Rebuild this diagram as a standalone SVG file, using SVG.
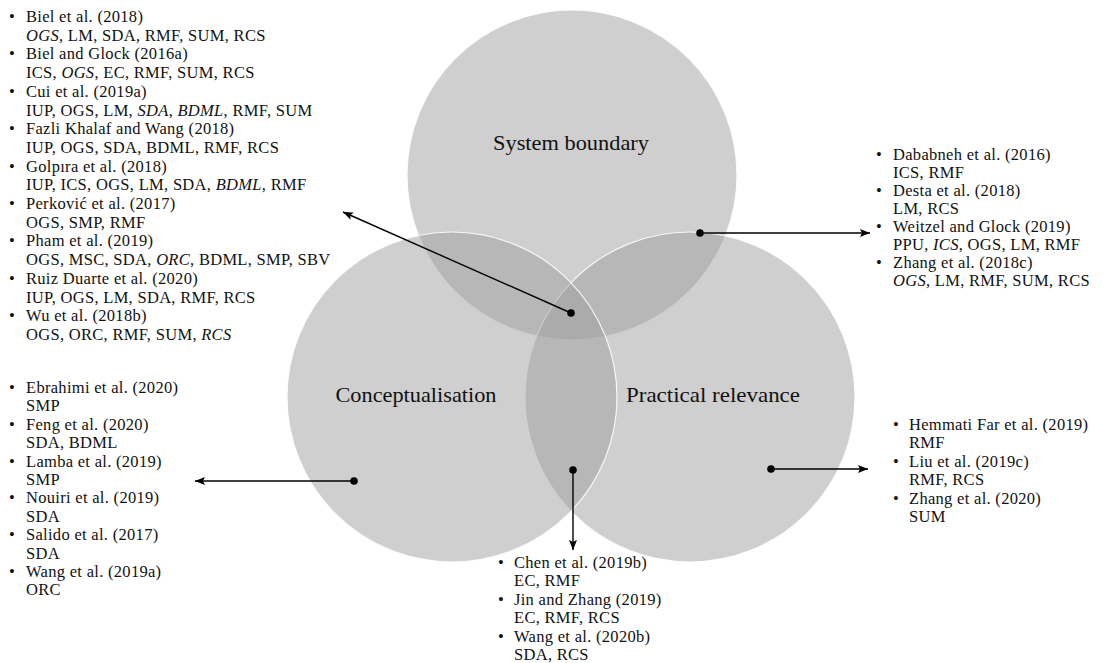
<svg xmlns="http://www.w3.org/2000/svg" width="1107" height="663" viewBox="0 0 1107 663">
<style>
.c{fill:#a0a0a0;fill-opacity:0.5;stroke:#fff;stroke-opacity:0.85;stroke-width:1.2}
.t{font-family:"Liberation Serif","Times New Roman",serif;font-size:16.5px;letter-spacing:0.3px;fill:#111}
.lbl{font-family:"Liberation Serif","Times New Roman",serif;font-size:21px;fill:#111;text-anchor:middle}
.i{font-style:italic}
.cn{stroke:#000;stroke-width:1.4;fill:none}
.dot{fill:#000}
</style>
<defs>
<marker id="ah" markerUnits="userSpaceOnUse" markerWidth="12" markerHeight="10" refX="10" refY="4" orient="auto">
<path d="M0,0 L10,4 L0,8 L2,4 z" fill="#000"/>
</marker>
</defs>
<rect width="1107" height="663" fill="#fff"/>
<g id="sets">
<g id="system-boundary"><circle class="c" cx="572" cy="175" r="165"/></g>
<g id="practical-relevance"><circle class="c" cx="690" cy="397" r="165"/></g>
<g id="conceptualisation"><circle class="c" cx="452" cy="397" r="165"/></g>
<text class="lbl" x="571" y="150" textLength="156" lengthAdjust="spacingAndGlyphs">System boundary</text>
<text class="lbl" x="416" y="402" textLength="161" lengthAdjust="spacingAndGlyphs">Conceptualisation</text>
<text class="lbl" x="713" y="402" textLength="174" lengthAdjust="spacingAndGlyphs">Practical relevance</text>
</g>
<g id="connectors">
<line class="cn" x1="571" y1="313" x2="343" y2="212" marker-end="url(#ah)"/>
<line class="cn" x1="700" y1="233" x2="870" y2="233" marker-end="url(#ah)"/>
<line class="cn" x1="354" y1="481" x2="195" y2="481" marker-end="url(#ah)"/>
<line class="cn" x1="573" y1="470" x2="573" y2="550" marker-end="url(#ah)"/>
<line class="cn" x1="771" y1="469" x2="868" y2="469" marker-end="url(#ah)"/>
<circle class="dot" cx="571" cy="313" r="3.8"/>
<circle class="dot" cx="700" cy="233" r="3.8"/>
<circle class="dot" cx="354" cy="481" r="3.8"/>
<circle class="dot" cx="573" cy="470" r="3.8"/>
<circle class="dot" cx="771" cy="469" r="3.8"/>
</g>
<g id="list-triple">
<text class="t" x="9" y="22">•</text><text class="t" x="26" y="22">Biel et al. (2018)</text>
<text class="t" x="26" y="40.7"><tspan class="i">OGS</tspan>, LM, SDA, RMF, SUM, RCS</text>
<text class="t" x="9" y="59.4">•</text><text class="t" x="26" y="59.4">Biel and Glock (2016a)</text>
<text class="t" x="26" y="78.1">ICS, <tspan class="i">OGS</tspan>, EC, RMF, SUM, RCS</text>
<text class="t" x="9" y="96.8">•</text><text class="t" x="26" y="96.8">Cui et al. (2019a)</text>
<text class="t" x="26" y="115.5">IUP, OGS, LM, <tspan class="i">SDA</tspan>, <tspan class="i">BDML</tspan>, RMF, SUM</text>
<text class="t" x="9" y="134.2">•</text><text class="t" x="26" y="134.2">Fazli Khalaf and Wang (2018)</text>
<text class="t" x="26" y="152.9">IUP, OGS, SDA, BDML, RMF, RCS</text>
<text class="t" x="9" y="171.6">•</text><text class="t" x="26" y="171.6">Golpıra et al. (2018)</text>
<text class="t" x="26" y="190.3">IUP, ICS, OGS, LM, SDA, <tspan class="i">BDML</tspan>, RMF</text>
<text class="t" x="9" y="209">•</text><text class="t" x="26" y="209">Perković et al. (2017)</text>
<text class="t" x="26" y="227.7">OGS, SMP, RMF</text>
<text class="t" x="9" y="246.4">•</text><text class="t" x="26" y="246.4">Pham et al. (2019)</text>
<text class="t" x="26" y="265.1">OGS, MSC, SDA, <tspan class="i">ORC</tspan>, BDML, SMP, SBV</text>
<text class="t" x="9" y="283.8">•</text><text class="t" x="26" y="283.8">Ruiz Duarte et al. (2020)</text>
<text class="t" x="26" y="302.5">IUP, OGS, LM, SDA, RMF, RCS</text>
<text class="t" x="9" y="321.2">•</text><text class="t" x="26" y="321.2">Wu et al. (2018b)</text>
<text class="t" x="26" y="339.9">OGS, ORC, RMF, SUM, <tspan class="i">RCS</tspan></text>
</g>
<g id="list-system-practical">
<text class="t" x="876" y="160">•</text><text class="t" x="893" y="160">Dababneh et al. (2016)</text>
<text class="t" x="893" y="178">ICS, RMF</text>
<text class="t" x="876" y="196">•</text><text class="t" x="893" y="196">Desta et al. (2018)</text>
<text class="t" x="893" y="214">LM, RCS</text>
<text class="t" x="876" y="232">•</text><text class="t" x="893" y="232">Weitzel and Glock (2019)</text>
<text class="t" x="893" y="250">PPU, <tspan class="i">ICS</tspan>, OGS, LM, RMF</text>
<text class="t" x="876" y="268">•</text><text class="t" x="893" y="268">Zhang et al. (2018c)</text>
<text class="t" x="893" y="286"><tspan class="i">OGS</tspan>, LM, RMF, SUM, RCS</text>
</g>
<g id="list-conceptualisation">
<text class="t" x="9" y="393">•</text><text class="t" x="26" y="393">Ebrahimi et al. (2020)</text>
<text class="t" x="26" y="411.4">SMP</text>
<text class="t" x="9" y="429.8">•</text><text class="t" x="26" y="429.8">Feng et al. (2020)</text>
<text class="t" x="26" y="448.2">SDA, BDML</text>
<text class="t" x="9" y="466.6">•</text><text class="t" x="26" y="466.6">Lamba et al. (2019)</text>
<text class="t" x="26" y="485">SMP</text>
<text class="t" x="9" y="503.4">•</text><text class="t" x="26" y="503.4">Nouiri et al. (2019)</text>
<text class="t" x="26" y="521.8">SDA</text>
<text class="t" x="9" y="540.2">•</text><text class="t" x="26" y="540.2">Salido et al. (2017)</text>
<text class="t" x="26" y="558.6">SDA</text>
<text class="t" x="9" y="577">•</text><text class="t" x="26" y="577">Wang et al. (2019a)</text>
<text class="t" x="26" y="595.4">ORC</text>
</g>
<g id="list-practical">
<text class="t" x="893" y="430">•</text><text class="t" x="909" y="430">Hemmati Far et al. (2019)</text>
<text class="t" x="909" y="448.4">RMF</text>
<text class="t" x="893" y="466.8">•</text><text class="t" x="909" y="466.8">Liu et al. (2019c)</text>
<text class="t" x="909" y="485.2">RMF, RCS</text>
<text class="t" x="893" y="503.6">•</text><text class="t" x="909" y="503.6">Zhang et al. (2020)</text>
<text class="t" x="909" y="522">SUM</text>
</g>
<g id="list-conceptualisation-practical">
<text class="t" x="498" y="568">•</text><text class="t" x="514" y="568">Chen et al. (2019b)</text>
<text class="t" x="514" y="586.4">EC, RMF</text>
<text class="t" x="498" y="604.8">•</text><text class="t" x="514" y="604.8">Jin and Zhang (2019)</text>
<text class="t" x="514" y="623.2">EC, RMF, RCS</text>
<text class="t" x="498" y="641.6">•</text><text class="t" x="514" y="641.6">Wang et al. (2020b)</text>
<text class="t" x="514" y="660">SDA, RCS</text>
</g>
</svg>
